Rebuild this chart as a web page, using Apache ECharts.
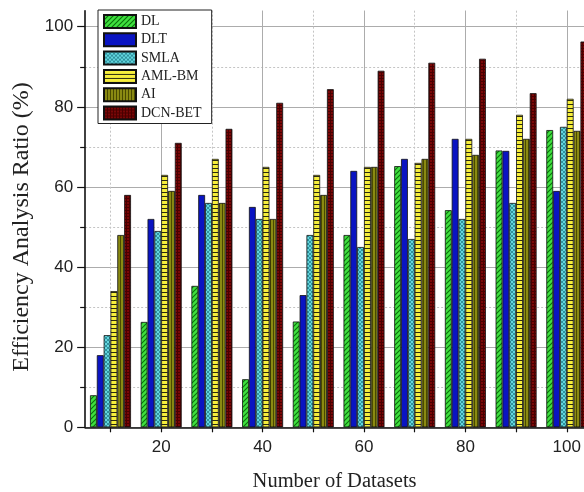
<!DOCTYPE html>
<html>
<head>
<meta charset="utf-8">
<script src="https://cdn.jsdelivr.net/npm/echarts@6/dist/echarts.min.js"></script>
<style>html,body{margin:0;padding:0;background:#fff}#c{width:584px;height:492px}</style>
</head>
<body>
<div id="c"></div>
<script>
var datasets = [10, 20, 30, 40, 50, 60, 70, 80, 90, 100];
var seriesNames = ['DL', 'DLT', 'SMLA', 'AML-BM', 'AI', 'DCN-BET'];
var DL     = [8, 26.3, 35.3, 12, 26.4, 48, 65.2, 54.2, 69.1, 74.2];
var DLT    = [18, 52, 58, 55, 33, 64, 67, 72, 69, 59];
var SMLA   = [23, 49, 56, 52, 48, 45, 47, 52, 56, 75];
var AMLBM  = [34, 63, 67, 65, 63, 65, 66, 72, 78, 82];
var AI     = [48, 59, 56, 52, 58, 65, 67, 68, 72, 74];
var DCNBET = [58, 71, 74.5, 81, 84.4, 89, 91, 92, 83.4, 96.3];
var yTickLabels = [0, 20, 40, 60, 80, 100];
var xTickLabels = [20, 40, 60, 80, 100];

function pattern(w, h, base, draw) {
  var c = document.createElement('canvas');
  c.width = w; c.height = h;
  var g = c.getContext('2d');
  g.fillStyle = base; g.fillRect(0, 0, w, h);
  draw(g, w, h);
  return { image: c, repeat: 'repeat' };
}
var pDL = pattern(5, 5, '#3fe03f', function (g, w, h) {
  g.strokeStyle = '#0b6e0b'; g.lineWidth = 1.1;
  g.beginPath();
  g.moveTo(-1, h + 1); g.lineTo(w + 1, -1);
  g.moveTo(-1, 1); g.lineTo(1, -1);
  g.moveTo(w - 1, h + 1); g.lineTo(w + 1, h - 1);
  g.stroke();
});
var pDLT = '#0a14c2';
var pSMLA = pattern(4, 4, '#62d6de', function (g, w, h) {
  g.strokeStyle = '#25808e'; g.lineWidth = 0.8;
  g.beginPath();
  g.moveTo(0, 0); g.lineTo(w, h);
  g.moveTo(0, h); g.lineTo(w, 0);
  g.stroke();
});
var pAML = pattern(4, 4, '#f6ee3c', function (g, w, h) {
  g.fillStyle = '#2a2a10'; g.fillRect(0, 0, w, 1);
});
var pAI = pattern(3, 3, '#8a8a12', function (g, w, h) {
  g.fillStyle = '#4a4a00'; g.fillRect(0, 0, 1, h);
});
var pDCN = pattern(3, 3, '#7a0707', function (g, w, h) {
  g.fillStyle = '#4a0000'; g.fillRect(0, 0, w, 1); g.fillRect(0, 0, 1, h);
});
var fills = [pDL, pDLT, pSMLA, pAML, pAI, pDCN];
var values = [DL, DLT, SMLA, AMLBM, AI, DCNBET];

// pixel calibration of the reference: x = 59.8 + 5.07*v, y = 427.3 - 4.006*v
var X = function (v) { return 59.8 + 5.07 * v; };
var Y = function (v) { return 427.3 - 4.006 * v; };
var W = 584, H = 492;
var xRightVal = (W - 59.8) / 5.07;

var labelFont = { fontFamily: 'Liberation Sans', fontSize: 17, color: '#222' };
var serif = 'Liberation Serif';

var series = values.map(function (arr, i) {
  return {
    name: seriesNames[i],
    type: 'bar',
    xAxisIndex: 0, yAxisIndex: 0,
    barWidth: 6.83,
    barGap: '0%',
    itemStyle: { color: fills[i], borderColor: '#111', borderWidth: 0.8 },
    emphasis: { disabled: true },
    data: arr.map(function (v, k) { return [datasets[k], v]; })
  };
});

var option = {
  animation: false,
  backgroundColor: '#fff',
  grid: [
    { left: X(5), right: 0, top: Y(104), bottom: H - Y(0), outerBoundsMode: 'none' },
    { left: X(5), right: 0, top: Y(100), bottom: H - Y(0), outerBoundsMode: 'none' },
    { left: X(10), right: W - X(100), top: Y(104), bottom: H - Y(0), outerBoundsMode: 'none' },
    { left: X(20), right: W - X(100), top: Y(104), bottom: H - Y(0), outerBoundsMode: 'none' }
  ],
  xAxis: [
    { gridIndex: 0, type: 'value', min: 5, max: xRightVal,
      axisLine: { show: true, lineStyle: { color: '#111', width: 1.6 } },
      axisTick: { show: false }, axisLabel: { show: false }, splitLine: { show: false },
      name: 'Number of Datasets', nameLocation: 'middle', nameGap: 44,
      nameTextStyle: { fontFamily: serif, fontSize: 20.5, color: '#222' } },
    { gridIndex: 1, type: 'value', min: 0, max: 1, show: false },
    { gridIndex: 2, type: 'value', min: 10, max: 100, interval: 10,
      axisLine: { show: false },
      axisTick: { show: true, length: 5, lineStyle: { color: '#111', width: 1.2 } },
      axisLabel: { show: true, margin: 12, formatter: function (v) { return xTickLabels.indexOf(v) >= 0 ? String(v) : ''; }, fontFamily: labelFont.fontFamily, fontSize: labelFont.fontSize, color: labelFont.color },
      splitLine: { show: true, lineStyle: { color: '#c4c4c4', width: 1, type: [2, 2] } } },
    { gridIndex: 3, type: 'value', min: 20, max: 100, interval: 20,
      axisLine: { show: false }, axisTick: { show: false }, axisLabel: { show: false },
      splitLine: { show: true, lineStyle: { color: '#acacac', width: 1 } } }
  ],
  yAxis: [
    { gridIndex: 0, type: 'value', min: 0, max: 104,
      axisLine: { show: true, lineStyle: { color: '#111', width: 1.6 } },
      axisTick: { show: false }, axisLabel: { show: false }, splitLine: { show: false } },
    { gridIndex: 1, type: 'value', min: 0, max: 100, interval: 20,
      axisLine: { show: false },
      axisTick: { show: true, length: 8, lineStyle: { color: '#111', width: 1.2 } },
      minorTick: { show: true, splitNumber: 2, length: 5, lineStyle: { color: '#111', width: 1.2 } },
      axisLabel: { show: true, margin: 12, formatter: function (v) { return yTickLabels.indexOf(v) >= 0 ? String(v) : ''; }, fontFamily: labelFont.fontFamily, fontSize: labelFont.fontSize, color: labelFont.color },
      splitLine: { show: true, lineStyle: { color: '#acacac', width: 1 } },
      minorSplitLine: { show: true, lineStyle: { color: '#c4c4c4', width: 1, type: [2, 2] } },
      name: 'Efficiency Analysis Ratio (%)', nameLocation: 'middle', nameGap: 37,
      nameTextStyle: { fontFamily: serif, fontSize: 24, color: '#222' } },
    { gridIndex: 2, type: 'value', min: 0, max: 1, show: false },
    { gridIndex: 3, type: 'value', min: 0, max: 1, show: false }
  ],
  legend: {
    orient: 'vertical', left: 98, top: 10,
    icon: 'rect', itemWidth: 32, itemHeight: 13, itemGap: 3.3,
    padding: [4, 10, 3, 5],
    backgroundColor: '#fff', borderColor: '#222', borderWidth: 1, borderRadius: 0,
    textStyle: { fontFamily: serif, fontSize: 14, color: '#222' },
    selectedMode: false,
    data: seriesNames
  },
  series: series
};
var chart = echarts.init(document.getElementById('c'), null, { renderer: 'canvas' });
chart.setOption(option);
</script>
</body>
</html>
